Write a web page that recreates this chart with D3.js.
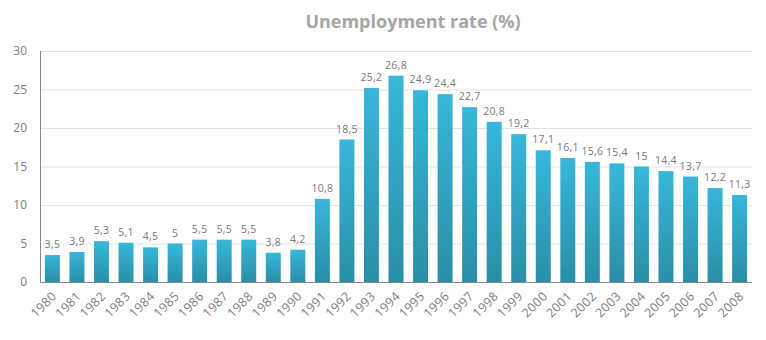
<!DOCTYPE html>
<html><head><meta charset="utf-8">
<script src="https://cdn.jsdelivr.net/npm/d3@7/dist/d3.min.js"></script>
<style>body{margin:0;background:#fff;}svg{display:block;font-family:"Open Sans","Segoe UI",sans-serif;}</style>
</head><body>
<script>
const years = ["1980","1981","1982","1983","1984","1985","1986","1987","1988","1989","1990","1991","1992","1993","1994","1995","1996","1997","1998","1999","2000","2001","2002","2003","2004","2005","2006","2007","2008"];
const rates = [3.5,3.9,5.3,5.1,4.5,5,5.5,5.5,5.5,3.8,4.2,10.8,18.5,25.2,26.8,24.9,24.4,22.7,20.8,19.2,17.1,16.1,15.6,15.4,15,14.4,13.7,12.2,11.3];
const yTicks = [0,5,10,15,20,25,30];
const title = "Unemployment rate (%)";

const W = 766, H = 340;
const m = {left:40, right:14, top:51, bottom:58};
const svg = d3.select("body").append("svg").attr("width",W).attr("height",H);
const defs = svg.append("defs");
const grad = defs.append("linearGradient").attr("id","bg").attr("x1",0).attr("y1",0).attr("x2",0).attr("y2",1);
grad.append("stop").attr("offset","0%").attr("stop-color","#37b7da");
grad.append("stop").attr("offset","100%").attr("stop-color","#2a8ea6");

const x = d3.scaleBand().domain(years).range([m.left, W-m.right]).paddingInner(0.39).paddingOuter(0.2);
const y = d3.scaleLinear().domain([0,30]).range([H-m.bottom, m.top]);

// gridlines
svg.append("g").selectAll("line").data(yTicks.filter(d=>d>0)).join("line")
  .attr("x1",m.left).attr("x2",W-m.right)
  .attr("y1",d=>y(d)+0.5).attr("y2",d=>y(d)+0.5)
  .attr("stroke","#e3e3e3").attr("stroke-width",1);

// y axis labels
svg.append("g").selectAll("text").data(yTicks).join("text")
  .attr("x",m.left-13).attr("y",d=>y(d)+4)
  .attr("text-anchor","end").attr("font-size",12).attr("fill","#808080")
  .text(d=>d);

// bars
svg.append("g").selectAll("rect").data(rates).join("rect")
  .attr("x",(d,i)=>x(years[i])).attr("width",x.bandwidth())
  .attr("y",d=>y(d)).attr("height",d=>y(0)-y(d))
  .attr("fill","url(#bg)");

// value labels
svg.append("g").selectAll("text").data(rates).join("text")
  .attr("x",(d,i)=>x(years[i])+x.bandwidth()/2).attr("y",d=>y(d)-7)
  .attr("text-anchor","middle").attr("font-size",10.5).attr("fill","#7a7a7a")
  .attr("letter-spacing",0.3)
  .text(d=>String(d).replace(".",","));

// axes lines
svg.append("line").attr("x1",m.left+0.5).attr("x2",m.left+0.5).attr("y1",m.top).attr("y2",y(0))
  .attr("stroke","#888");
svg.append("line").attr("x1",m.left).attr("x2",W-m.right).attr("y1",y(0)+0.5).attr("y2",y(0)+0.5)
  .attr("stroke","#888");

// x labels
svg.append("g").selectAll("text").data(years).join("text")
  .attr("transform",d=>`translate(${x(d)+x.bandwidth()/2+5},${y(0)+15}) rotate(-45)`)
  .attr("text-anchor","end").attr("font-size",12.5).attr("fill","#808080")
  .attr("letter-spacing",0.4)
  .text(d=>d);

// title
svg.append("text").attr("x",413).attr("y",28).attr("text-anchor","middle")
  .attr("font-size",18).attr("font-weight","bold").attr("fill","#a6a6a6").text(title);
</script>
</body></html>
